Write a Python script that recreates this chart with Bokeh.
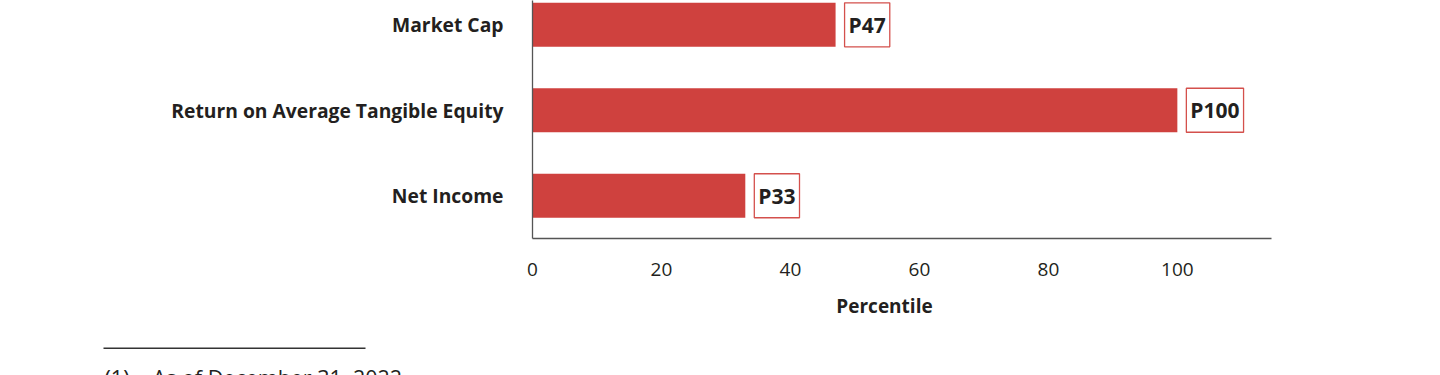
from bokeh.plotting import figure
from bokeh.models import ColumnDataSource, Label, FixedTicker, Range1d
from bokeh.embed import file_html
from bokeh.resources import INLINE

categories = ["Net Income", "Return on Average Tangible Equity", "Market Cap"]
percentiles = [33, 100, 47]
x_ticks = [0, 20, 40, 60, 80, 100]
x_title = "Percentile"
footnote_mark = "(1)"
footnote_text = "As of December 31, 2022"

BAR = "#CF413E"
BOX = "#D4504C"
TXT = "#231F20"
AXIS = "#555555"
FONT = "Open Sans"

positions = list(range(len(categories)))
src = ColumnDataSource(dict(y=positions, x=percentiles))

# ---------------- main chart ----------------
p = figure(frame_width=739, frame_height=238,
           x_range=(0, 114.6), y_range=(-0.5, 2.284),
           output_backend="svg", toolbar_location=None,
           min_border_left=532, min_border_right=169,
           min_border_top=0, min_border_bottom=52)
p.outline_line_color = None
p.grid.grid_line_color = None
p.background_fill_color = "white"
p.border_fill_color = "white"

p.hbar(y="y", left=0, right="x", height=0.515, source=src,
       fill_color=BAR, line_color=None)

for yv, xv in zip(positions, percentiles):
    p.add_layout(Label(x=xv, y=yv, text="P%d" % xv,
                       x_offset=9, y_offset=0,
                       text_align="left", text_baseline="middle",
                       text_font=FONT, text_font_size="21px", text_font_style="bold",
                       text_color=TXT, background_fill_color="white",
                       border_line_color=BOX, border_line_width=1.3,
                       padding=(4, 8)))

p.xaxis.ticker = FixedTicker(ticks=x_ticks)
p.yaxis.ticker = FixedTicker(ticks=positions)
p.yaxis.major_label_overrides = {i: c for i, c in zip(positions, categories)}
for ax in (p.xaxis[0], p.yaxis[0]):
    ax.axis_line_color = AXIS
    ax.axis_line_width = 1.3
    ax.major_tick_line_color = None
    ax.minor_tick_line_color = None
    ax.major_tick_out = 0
    ax.major_tick_in = 0
    ax.minor_tick_out = 0
    ax.minor_tick_in = 0
    ax.major_label_text_font = FONT
    ax.major_label_text_color = TXT
p.xaxis.major_label_text_font_size = "19px"
p.yaxis.major_label_text_font_size = "19.3px"
p.xaxis.major_label_standoff = 24
p.yaxis.major_label_standoff = 29
p.yaxis.major_label_text_font_style = "bold"

# ---------------- axis title + footnote strip (page-pixel coordinates) ----------------
f = figure(width=1440, height=85, x_range=Range1d(0, 1440), y_range=Range1d(375, 290),
           output_backend="svg", toolbar_location=None,
           x_axis_location=None, y_axis_location=None,
           min_border=0)
f.outline_line_color = None
f.grid.visible = False
f.background_fill_color = "white"
f.border_fill_color = "white"

f.add_layout(Label(x=884, y=305, text=x_title,
                   text_align="center", text_baseline="alphabetic",
                   text_font=FONT, text_font_size="19px", text_font_style="bold",
                   text_color=TXT))
f.segment(x0=[103], y0=[347.7], x1=[365], y1=[347.7],
          line_color="#333333", line_width=1.5)
f.add_layout(Label(x=104, y=377, text=footnote_mark,
                   text_align="left", text_baseline="alphabetic",
                   text_font=FONT, text_font_size="21.5px", text_color=TXT))
f.add_layout(Label(x=152, y=377, text=footnote_text,
                   text_align="left", text_baseline="alphabetic",
                   text_font=FONT, text_font_size="21.5px", text_color=TXT))

open("out.html", "w").write(file_html([p, f], INLINE))
